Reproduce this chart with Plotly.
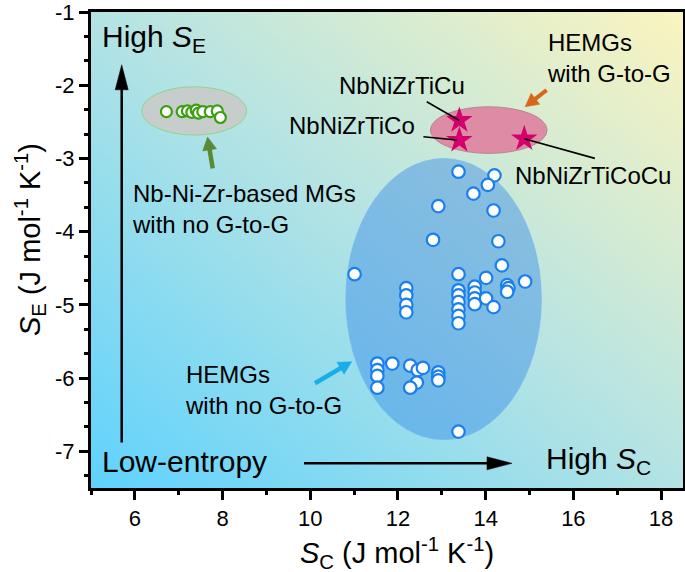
import base64, math
import plotly.graph_objects as go

# ---------------- data ----------------
hemg_sc = [13.38, 14.20, 14.05, 13.72, 12.92, 14.18, 12.80, 14.29, 11.01, 13.38,
           14.37, 14.01, 14.90, 14.49, 14.52, 14.49,
           12.19, 12.19, 12.19, 12.19,
           13.38, 13.38, 13.38, 13.38, 13.38, 13.38,
           13.75, 13.75, 13.75, 13.75, 14.01, 14.18,
           11.53, 11.53, 11.53, 11.53, 11.87, 12.28, 12.45, 12.57, 12.43, 12.28,
           12.92, 12.92, 12.92, 13.38]
hemg_se = [-3.18, -3.23, -3.36, -3.48, -3.65, -3.71, -4.11, -4.13, -4.58, -4.58,
           -4.46, -4.63, -4.68, -4.73, -4.77, -4.82,
           -4.77, -4.87, -5.00, -5.10,
           -4.80, -4.87, -4.96, -5.06, -5.15, -5.25,
           -4.75, -4.83, -4.91, -4.99, -4.91, -5.03,
           -5.80, -5.89, -5.97, -6.13, -5.80, -5.83, -5.89, -5.86, -6.06, -6.13,
           -5.92, -5.98, -6.03, -6.73]

nbnizr_sc = [6.72, 7.08, 7.20, 7.30, 7.40, 7.45, 7.55, 7.72, 7.88, 7.95]
nbnizr_se = [-2.36, -2.36, -2.35, -2.37, -2.34, -2.38, -2.36, -2.36, -2.35, -2.44]

gg_names = ["NbNiZrTiCu", "NbNiZrTiCo", "NbNiZrTiCoCu"]
gg_sc = [13.40, 13.40, 14.88]
gg_se = [-2.48, -2.75, -2.73]

x_ticks = [6, 8, 10, 12, 14, 16, 18]
y_ticks = [-1, -2, -3, -4, -5, -6, -7]

# ---------------- layout constants ----------------
W, H = 685, 572
ML, MR, MT, MB = 91, 2, 12, 84
XR = [5, 18.5]
YR = [-7.5, -0.999]
XPU = (W - ML - MR) / (XR[1] - XR[0])
YPU = (H - MT - MB) / (YR[1] - YR[0])
PW, PH = W - ML - MR, H - MT - MB
FONT = "Arial, Liberation Sans, Helvetica, sans-serif"

fig = go.Figure()

# background gradient
svg = ('<svg xmlns="http://www.w3.org/2000/svg" width="100" height="100" viewBox="0 0 100 100" '
       'preserveAspectRatio="none"><defs><linearGradient id="g" x1="0" y1="1" x2="1" y2="0">'
       '<stop offset="0" stop-color="#5fd2fd"/><stop offset="0.5" stop-color="#b3e3e4"/>'
       '<stop offset="1" stop-color="#fbf4bf"/></linearGradient></defs>'
       '<rect width="100" height="100" fill="url(#g)"/></svg>')
uri = "data:image/svg+xml;base64," + base64.b64encode(svg.encode()).decode()

shapes = []
# region ellipses
shapes.append(dict(type="circle", xref="x", yref="y", x0=10.81, x1=15.27, y0=-6.84, y1=-3.0,
                   fillcolor="rgba(45,130,230,0.42)", line=dict(color="rgba(120,185,245,0.7)", width=1),
                   layer="below"))
shapes.append(dict(type="circle", xref="x", yref="y", x0=12.74, x1=15.40, y0=-2.93, y1=-2.293,
                   fillcolor="#de8ca6", line=dict(color="#b5878f", width=1), layer="below"))
shapes.append(dict(type="circle", xref="x", yref="y", x0=6.156, x1=8.551, y0=-2.68, y1=-2.02,
                   fillcolor="#c6cdca", line=dict(color="#8fd68a", width=1), layer="below"))


def arrow(x0, y0, x1, y1, color, width, hl, hw):
    dxp = (x1 - x0) * XPU
    dyp = -(y1 - y0) * YPU
    L = math.hypot(dxp, dyp)
    ux, uy = dxp / L, dyp / L
    px_, py_ = -uy, ux
    bx, by = -hl * ux, -hl * uy  # base offset from tip (px)
    def to_d(ox, oy):
        return x1 + ox / XPU, y1 - oy / YPU
    base = to_d(bx + 0.5 * ux, by + 0.5 * uy)
    p1 = to_d(bx + px_ * hw / 2, by + py_ * hw / 2)
    p2 = to_d(bx - px_ * hw / 2, by - py_ * hw / 2)
    shapes.append(dict(type="line", xref="x", yref="y", x0=x0, y0=y0, x1=base[0], y1=base[1],
                       line=dict(color=color, width=width)))
    path = f"M {x1},{y1} L {p1[0]},{p1[1]} L {p2[0]},{p2[1]} Z"
    shapes.append(dict(type="path", xref="x", yref="y", path=path, fillcolor=color,
                       line=dict(color=color, width=0.5)))


arrow(5.70, -6.88, 5.70, -1.72, "black", 2.5, 25, 13)
arrow(9.857, -7.163, 14.60, -7.163, "black", 2.5, 25, 13)
arrow(15.39, -2.065, 14.90, -2.293, "#d5661b", 4, 13, 14)
arrow(7.775, -3.134, 7.657, -2.707, "#5a8a35", 4.5, 13, 14)
arrow(10.108, -6.07, 10.945, -5.775, "#1aaee9", 4.5, 13, 14)

# leader lines
for (a, b, c, d) in [(12.656, -2.225, 13.40, -2.48), (12.58, -2.703, 13.34, -2.748),
                     (14.88, -2.73, 16.49, -2.998)]:
    shapes.append(dict(type="line", xref="x", yref="y", x0=a, y0=b, x1=c, y1=d,
                       line=dict(color="black", width=1.6)))

fig.add_trace(go.Scatter(x=hemg_sc, y=hemg_se, mode="markers", showlegend=False,
                         marker=dict(size=12.5, color="white", line=dict(color="#1a7fec", width=2.2))))
fig.add_trace(go.Scatter(x=nbnizr_sc, y=nbnizr_se, mode="markers", showlegend=False,
                         marker=dict(size=11, color="white", line=dict(color="#3aa010", width=2.2))))
fig.add_trace(go.Scatter(x=gg_sc, y=gg_se, mode="markers", showlegend=False, text=gg_names,
                         marker=dict(size=20, symbol="star", color="#d4006c", line=dict(width=0))))


def txt(x, y, s, size=24):
    return dict(x=x, y=y, xref="x", yref="y", text=s, showarrow=False, xanchor="left",
                yanchor="middle", align="left", font=dict(family=FONT, size=size, color="black"))


annotations = [
    txt(5.20, -1.355, "High <i>S</i><sub>E</sub>", 30),
    txt(5.20, -7.141, "Low-entropy", 30),
    txt(15.33, -7.131, "High <i>S</i><sub>C</sub>", 30),
    txt(15.36, -1.621, "HEMGs<br>with G-to-G"),
    txt(10.60, -1.997, gg_names[0]),
    txt(9.46, -2.543, gg_names[1]),
    txt(14.63, -3.226, gg_names[2]),
    txt(5.89, -3.69, "Nb-Ni-Zr-based MGs<br>with no G-to-G"),
    txt(7.10, -6.162, "HEMGs<br>with no G-to-G"),
    # axis titles
    dict(xref="paper", yref="paper", x=(30 - ML) / PW, y=(H - MB - 240) / PH, showarrow=False,
         text="<i>S</i><sub>E</sub> (J mol<sup>-1</sup> K<sup>-1</sup>)", textangle=-90,
         xanchor="center", yanchor="middle", font=dict(family=FONT, size=29, color="black")),
    dict(xref="paper", yref="paper", x=(397 - ML) / PW, y=(H - MB - 553) / PH, showarrow=False,
         text="<i>S</i><sub>C</sub> (J mol<sup>-1</sup> K<sup>-1</sup>)",
         xanchor="center", yanchor="middle", font=dict(family=FONT, size=29, color="black")),
]

axis_common = dict(showline=True, linecolor="black", linewidth=3, mirror=True,
                   ticks="outside", ticklen=9, tickwidth=3, tickcolor="black",
                   showgrid=False, zeroline=False, automargin=False, ticklabeloverflow="allow",
                   tickfont=dict(family=FONT, size=22, color="black"))

fig.update_layout(
    width=W, height=H,
    margin=dict(l=ML, r=MR, t=MT, b=MB, autoexpand=False),
    paper_bgcolor="white", plot_bgcolor="rgba(0,0,0,0)",
    images=[dict(source=uri, xref="paper", yref="paper", x=0, y=1, sizex=1, sizey=1,
                 sizing="stretch", layer="below")],
    shapes=shapes, annotations=annotations,
    xaxis=dict(range=XR, tickvals=x_ticks, ticktext=[str(v) for v in x_ticks],
               minor=dict(dtick=1, tick0=5, ticks="outside", ticklen=4, tickwidth=2.5, tickcolor="black"),
               **axis_common),
    yaxis=dict(range=YR, tickvals=y_ticks, ticktext=[str(v) for v in y_ticks],
               minor=dict(dtick=1 / 3, tick0=-1, ticks="outside", ticklen=4, tickwidth=2.5, tickcolor="black"),
               **axis_common),
    font=dict(family=FONT),
)

fig.write_html("out.html", config={"displayModeBar": False},
               post_script="document.body.style.margin='0';document.body.style.overflow='hidden';")
